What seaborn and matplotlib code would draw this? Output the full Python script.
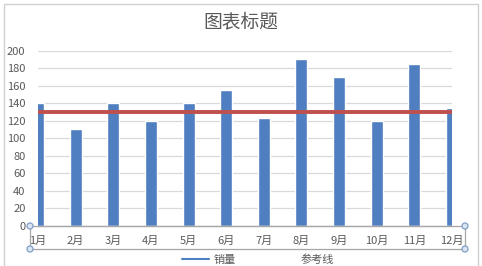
import matplotlib
matplotlib.use("Agg")
import matplotlib.pyplot as plt
import seaborn as sns
import pandas as pd
from matplotlib.patches import Rectangle, Circle
from matplotlib.lines import Line2D

months = ["1月", "2月", "3月", "4月", "5月", "6月", "7月", "8月", "9月", "10月", "11月", "12月"]
sales = [140, 110, 140, 120, 140, 155, 123, 190, 170, 120, 185, 135]
reference = [130] * 12
yticks = [0, 20, 40, 60, 80, 100, 120, 140, 160, 180, 200]
title = "图表标题"
legend_labels = ["销量", "参考线"]

sns.set_theme(style="white")
plt.rcParams['font.family'] = ['Noto Sans CJK SC', 'DejaVu Sans']

W, H = 482, 266
fig = plt.figure(figsize=(W / 100, H / 100), dpi=100)

# outer chart border
fig.patches.append(Rectangle((4 / W, -0.05), 474 / W, (262 / H) + 0.05, transform=fig.transFigure,
                             fill=False, edgecolor="#d0d0d0", linewidth=1.0))

left, right = 38 / W, 452 / W
bottom, top = (H - 225.7) / H, (H - 50.7) / H
ax = fig.add_axes([left, bottom, right - left, top - bottom])

df = pd.DataFrame({"month": months, "sales": sales, "ref": reference})
sns.barplot(data=df, x="month", y="sales", order=months, color="#4f7ec1", saturation=1,
            width=0.32, ax=ax, zorder=2)
ax.plot(range(len(months)), df["ref"], color="#c0504d", linewidth=2.8, zorder=3)

ax.set_xlim(0, len(months) - 1)
ax.set_ylim(0, 200)
ax.set_yticks(yticks)
ax.set_yticklabels([str(v) for v in yticks])
ax.yaxis.grid(True, color="#d9d9d9", linewidth=0.9, zorder=0)
ax.set_axisbelow(True)
ax.set_xlabel("")
ax.set_ylabel("")
for s in ["top", "right", "left"]:
    ax.spines[s].set_visible(False)
ax.spines["bottom"].set_color("#bfbfbf")
ax.spines["bottom"].set_linewidth(0.9)
ax.tick_params(axis="y", length=0, pad=9, labelsize=8, labelcolor="#595959")
ax.tick_params(axis="x", length=0, pad=7, labelsize=8, labelcolor="#595959")

fig.text(241 / W, 1 - 22 / H, title, ha="center", va="center", fontsize=13.5, color="#595959")

# axis selection box with handles
x0, x1 = 30 / W, 465 / W
y0, y1 = 1 - 249 / H, 1 - 226 / H
fig.patches.append(Rectangle((x0, y0), x1 - x0, y1 - y0, transform=fig.transFigure,
                             fill=False, edgecolor="#a6a6a6", linewidth=0.9, zorder=5))
for (cx, cy) in [(30, 226), (465, 226), (30, 249), (465, 249)]:
    fig.patches.append(Circle((cx, H - cy), 3, transform=None, facecolor="#dce6f2",
                              edgecolor="#7f9fc6", linewidth=0.9, zorder=6))

handles = [Line2D([0], [0], color="#4f7ec1", linewidth=1.5),
           Line2D([0], [0], color="#c0504d", linewidth=1.5, alpha=0.0)]
leg = fig.legend(handles, legend_labels, loc="center", bbox_to_anchor=(258 / W, 1 - 259.5 / H),
                 ncol=2, frameon=False, fontsize=8, handlelength=2.4, handletextpad=0.4,
                 columnspacing=3, labelcolor="#595959", borderpad=0.1)

fig.savefig("out.png", dpi=100)
